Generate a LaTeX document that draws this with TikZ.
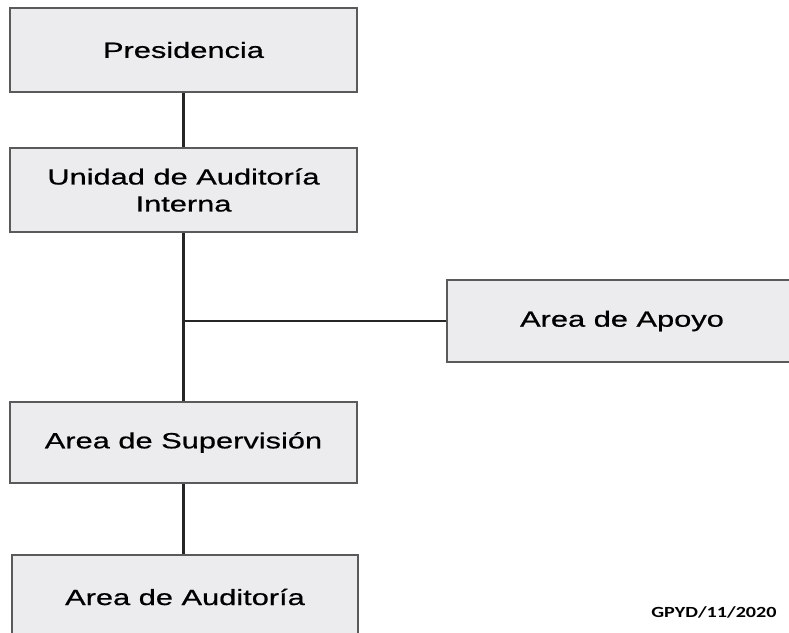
\documentclass[tikz,border=0pt]{standalone}
\usepackage{fontspec}
\newfontfamily\boxfont{Liberation Sans}[FakeStretch=1.4,FakeBold=0.7]
\newfontfamily\datefont{Carlito}[FakeStretch=1.3]
\usetikzlibrary{positioning}
\definecolor{boxfill}{HTML}{ECECEE}
\definecolor{boxline}{HTML}{5A5A5A}

\begin{document}
\begin{tikzpicture}[x=1pt,y=-1pt,
  unitbox/.style={draw=boxline, line width=1.5pt, fill=boxfill, minimum width=347pt,
    minimum height=84pt, inner sep=0pt, align=center,
    font=\boxfont\fontsize{22}{27}\selectfont},
  link/.style={black!85, line width=2.5pt}]
\useasboundingbox (0,0) rectangle (789,632);
\clip (0,0) rectangle (789,632);
\node[unitbox] (pres) at (183.5,50) {Presidencia};
\node[unitbox] (unidad) at (183.5,190) {Unidad de Auditoría\\Interna};
\node[unitbox, minimum height=81pt] (superv) at (183.5,442.5) {Area de Supervisión};
\node[unitbox, minimum width=346pt] (audit) at (185,597) {Area de Auditoría};
\node[unitbox, minimum width=350pt, minimum height=82pt] (apoyo) at (622,321) {Area de Apoyo};
% connectors
\draw[link] (pres.south) -- (unidad.north);
\draw[link] (unidad.south) -- (superv.north);
\draw[link] (superv.south) -- (superv.south |- audit.north);
\coordinate (junction) at (unidad.south |- apoyo.west);
\draw[black!85, line width=1.5pt] (junction) -- (apoyo.west);
\node[font=\datefont\bfseries\fontsize{15.5}{18}\selectfont] (fecha) at (714,612) {GPYD/11/2020};
\end{tikzpicture}
\end{document}
